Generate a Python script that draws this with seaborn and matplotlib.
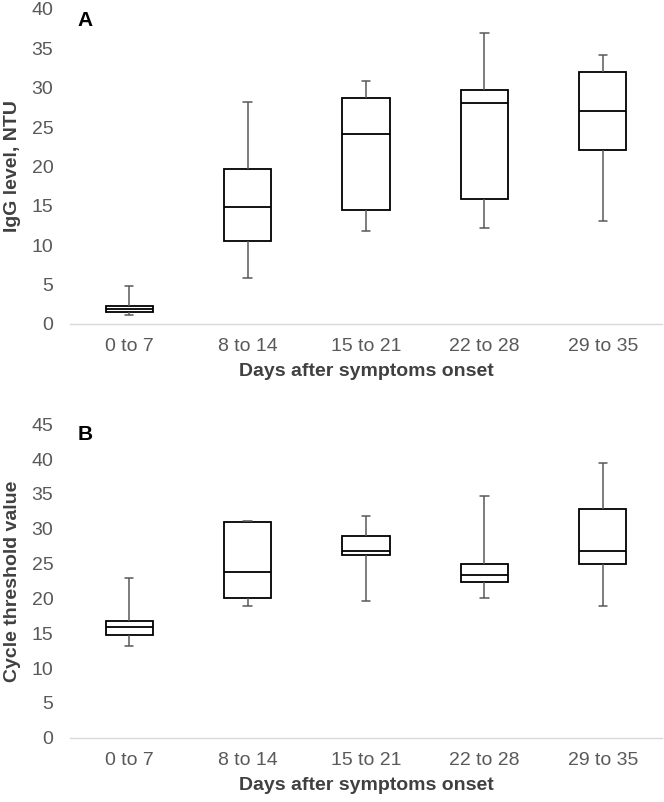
import matplotlib
matplotlib.use("Agg")
import matplotlib.pyplot as plt
import seaborn as sns
import pandas as pd

categories = ["0 to 7", "8 to 14", "15 to 21", "22 to 28", "29 to 35"]

# five-number summaries: min, q1, median, q3, max
igg_min = [1.1, 5.9, 11.8, 12.2, 13.1]
igg_q1 = [1.5, 10.6, 14.5, 15.9, 22.1]
igg_med = [1.9, 14.8, 24.1, 28.1, 27.1]
igg_q3 = [2.3, 19.7, 28.7, 29.75, 32.0]
igg_max = [4.8, 28.2, 30.8, 37.0, 34.1]

ct_min = [13.1, 18.9, 19.7, 20.0, 18.9]
ct_q1 = [14.7, 20.0, 26.3, 22.3, 25.0]
ct_med = [15.9, 23.8, 26.85, 23.3, 26.8]
ct_q3 = [16.8, 30.9, 29.0, 24.9, 32.9]
ct_max = [23.0, 31.1, 31.9, 34.7, 39.4]


def long_frame(mins, q1s, meds, q3s, maxs):
    rows = []
    for c, a, b, m, d, e in zip(categories, mins, q1s, meds, q3s, maxs):
        for v in (a, b, m, d, e):
            rows.append({"cat": c, "val": v})
    return pd.DataFrame(rows)


df_igg = long_frame(igg_min, igg_q1, igg_med, igg_q3, igg_max)
df_ct = long_frame(ct_min, ct_q1, ct_med, ct_q3, ct_max)

sns.set_style("white")
plt.rcParams["font.family"] = ["Liberation Sans", "DejaVu Sans"]

fig = plt.figure(figsize=(6.64, 8.02), dpi=100)
ax1 = fig.add_axes([70 / 664, 1 - 324 / 802, 592 / 664, 315 / 802])
ax2 = fig.add_axes([70 / 664, 1 - 737.7 / 802, 592 / 664, 313.4 / 802])

tick_col = "#595959"
label_col = "#404040"

panels = [
    (ax1, df_igg, "IgG level, NTU", (0, 40), range(0, 41, 5), "A", 0.962),
    (ax2, df_ct, "Cycle threshold value", (0, 45), range(0, 46, 5), "B", 0.966),
]

for ax, df, ylab, ylim, yticks, letter, ly in panels:
    sns.boxplot(
        data=df, x="cat", y="val", order=categories, ax=ax,
        whis=(0, 100), width=0.4, color="white", linecolor="black",
        linewidth=1.3,
        whiskerprops=dict(color="#595959", linewidth=1.1),
        capprops=dict(color="#595959", linewidth=1.1),
        medianprops=dict(color="black", linewidth=1.3),
        capwidths=0.07,
    )
    ax.set_ylim(*ylim)
    ax.set_xlim(-0.5, 4.5)
    ax.set_yticks(list(yticks))
    ax.tick_params(axis="both", length=0, labelsize=14, colors=tick_col)
    ax.tick_params(axis="y", pad=12)
    ax.tick_params(axis="x", pad=10)
    for s in ["top", "right", "left"]:
        ax.spines[s].set_visible(False)
    ax.spines["bottom"].set_color("#d9d9d9")
    ax.spines["bottom"].set_linewidth(1.0)
    ax.set_ylabel(ylab, fontsize=14, fontweight="bold", color=label_col)
    ax.yaxis.set_label_coords(-0.083, 0.5)
    ax.set_xlabel("Days after symptoms onset", fontsize=14, fontweight="bold",
                  color=label_col, labelpad=6)
    ax.text(0.025, ly, letter, transform=ax.transAxes, fontsize=15,
            fontweight="bold", color="black", ha="center", va="center")

fig.savefig("out.png", dpi=100)
